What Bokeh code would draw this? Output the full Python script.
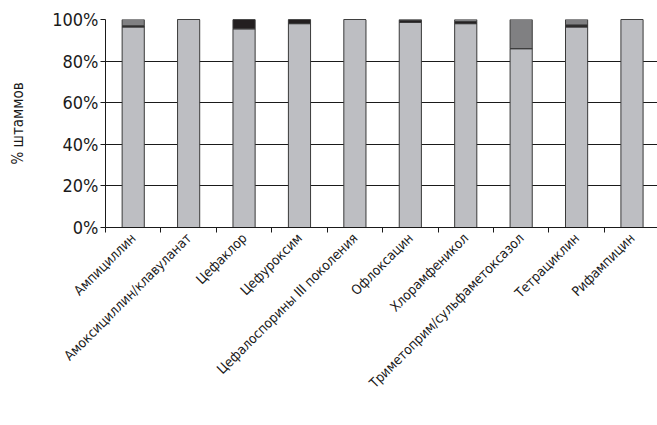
from bokeh.plotting import figure
from bokeh.models import (ColumnDataSource, Range1d, LinearAxis, FixedTicker,
                          PrintfTickFormatter, Legend, LegendItem)
from bokeh.embed import file_html
from bokeh.resources import INLINE
import math

FONT = "DejaVu Sans Condensed"

# Antibiotics and share of strains (%) per susceptibility category
drugs = ["Ампициллин", "Амоксициллин/клавуланат", "Цефаклор", "Цефуроксим",
         "Цефалоспорины III поколения", "Офлоксацин", "Хлорамфеникол",
         "Триметоприм/сульфаметоксазол", "Тетрациклин", "Рифампицин"]
sensitive = [96.4, 100.0, 95.5, 98.0, 100.0, 98.6, 98.0, 86.0, 96.4, 100.0]
intermediate = [0.6, 0.0, 4.5, 2.0, 0.0, 1.0, 1.0, 0.0, 1.0, 0.0]
resistant = [3.0, 0.0, 0.0, 0.0, 0.0, 0.4, 1.0, 14.0, 2.6, 0.0]

series = ["sens", "inter", "res"]
series_labels = ["чувствительные", "умеренно-резистентные", "резистентные"]
colors = ["#bdbec2", "#231f20", "#808082"]

x = list(range(len(drugs)))
source = ColumnDataSource(dict(x=x, sens=sensitive, inter=intermediate, res=resistant))

p = figure(frame_width=552, frame_height=208, output_backend="svg", toolbar_location=None,
           x_range=Range1d(-0.5, 9.46), y_range=Range1d(0, 100),
           x_axis_location=None, y_axis_location=None,
           min_border_left=105, min_border_right=0, min_border_top=19,
           min_border_bottom=0)
p.outline_line_color = None
p.background_fill_color = "white"
p.border_fill_color = "white"

renderers = p.vbar_stack(series, x="x", width=0.4, source=source,
                         fill_color=colors, line_color="#3a3a3a", line_width=1)

# horizontal grid every 20%
p.xgrid.visible = False
p.ygrid.ticker = FixedTicker(ticks=[0, 20, 40, 60, 80, 100])
p.ygrid.grid_line_color = "#1a1a1a"
p.ygrid.grid_line_width = 1
p.ygrid.level = "underlay"

# y axis
yaxis = LinearAxis(ticker=FixedTicker(ticks=[0, 20, 40, 60, 80, 100]),
                   formatter=PrintfTickFormatter(format="%d%%"))
yaxis.axis_line_color = "#1a1a1a"
yaxis.major_tick_line_color = "#1a1a1a"
yaxis.major_tick_out = 5
yaxis.major_tick_in = 0
yaxis.minor_tick_line_color = None
yaxis.major_label_text_font = FONT
yaxis.major_label_text_font_size = "18px"
yaxis.major_label_text_color = "#1a1a1a"
yaxis.major_label_standoff = 2
yaxis.axis_label = "% штаммов"
yaxis.axis_label_text_font = FONT
yaxis.axis_label_text_font_size = "15px"
yaxis.axis_label_text_font_style = "normal"
yaxis.axis_label_text_color = "#1a1a1a"
yaxis.axis_label_standoff = 22
p.add_layout(yaxis, "left")

# x axis: names at bar centres, short ticks between categories
xaxis = LinearAxis(ticker=FixedTicker(ticks=x,
                                      minor_ticks=[i + 0.5 for i in range(-1, len(drugs))]))
xaxis.major_label_overrides = {i: d for i, d in enumerate(drugs)}
xaxis.major_label_orientation = math.pi / 4
xaxis.major_tick_out = 0
xaxis.major_tick_in = 0
xaxis.minor_tick_out = 5
xaxis.minor_tick_in = 0
xaxis.minor_tick_line_color = "#1a1a1a"
xaxis.axis_line_color = "#1a1a1a"
xaxis.major_label_text_font = FONT
xaxis.major_label_text_font_size = "13.5px"
xaxis.major_label_text_color = "#1a1a1a"
xaxis.major_label_standoff = 3
p.add_layout(xaxis, "below")

# legend under the rotated names, offset (screen px) within its panel
legend = Legend(items=[LegendItem(label=lab, renderers=[r])
                       for lab, r in zip(series_labels, renderers)],
                orientation="horizontal", location=(21, 44))
legend.border_line_color = "#1a1a1a"
legend.border_line_width = 1
legend.label_text_font = FONT
legend.label_text_font_size = "15px"
legend.label_text_color = "#1a1a1a"
legend.glyph_width = 13
legend.glyph_height = 13
legend.label_standoff = 4
legend.spacing = 22
legend.padding = 5
legend.margin = 0
legend.background_fill_alpha = 1
p.add_layout(legend, "below")

open("out.html", "w").write(file_html(p, INLINE))
